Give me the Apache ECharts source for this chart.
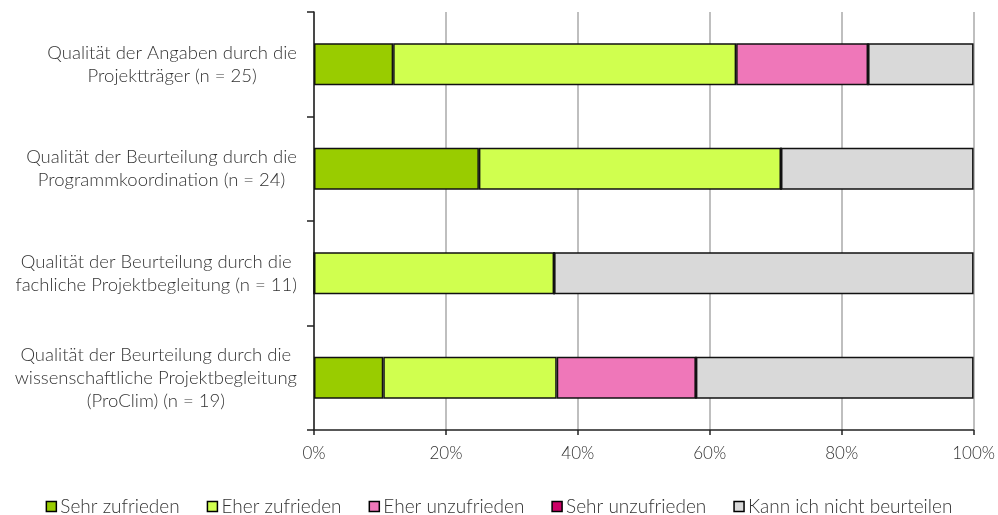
<!DOCTYPE html>
<html>
<head>
<meta charset="utf-8">
<script src="https://cdn.jsdelivr.net/npm/echarts@6/dist/echarts.min.js"></script>
<style>html,body{margin:0;padding:0;background:#fff}#c{width:998px;height:515px}</style>
</head>
<body>
<div id="c"></div>
<script>
const categories = [
  'Qualität der Angaben durch die\nProjektträger (n = 25)',
  'Qualität der Beurteilung durch die\nProgrammkoordination (n = 24)',
  'Qualität der Beurteilung durch die\nfachliche Projektbegleitung (n = 11)',
  'Qualität der Beurteilung durch die\nwissenschaftliche Projektbegleitung\n(ProClim) (n = 19)'
];
const seriesNames = ['Sehr zufrieden', 'Eher zufrieden', 'Eher unzufrieden', 'Sehr unzufrieden', 'Kann ich nicht beurteilen'];
const sehrZufrieden = [12, 25, 0, 10.5];
const eherZufrieden = [52, 45.8, 36.4, 26.3];
const eherUnzufrieden = [20, 0, 0, 21.1];
const sehrUnzufrieden = [0, 0, 0, 0];
const kannNicht = [16, 29.2, 63.6, 42.1];
const xTicks = [0, 20, 40, 60, 80, 100];
const colors = ['#99CC00', '#D0FF4F', '#EF77B9', '#CC0066', '#D9D9D9'];

const values = [sehrZufrieden, eherZufrieden, eherUnzufrieden, sehrUnzufrieden, kannNicht];
const font = 'Lato, "Open Sans", sans-serif';

const chart = echarts.init(document.getElementById('c'));
chart.setOption({
  animation: false,
  textStyle: { fontFamily: font, fontWeight: 300 },
  grid: { left: 314, right: 24, top: 12, bottom: 85, containLabel: false },
  legend: {
    top: 492,
    left: 'center',
    itemWidth: 10,
    itemHeight: 10,
    itemGap: 27,
    icon: 'rect',
    textStyle: { fontSize: 19, color: '#333', fontFamily: font, fontWeight: 300, padding: [0, 0, 0, -1] },
    itemStyle: { borderColor: '#000', borderWidth: 1.5 },
    data: seriesNames
  },
  xAxis: {
    type: 'value',
    min: xTicks[0],
    max: xTicks[xTicks.length - 1],
    interval: 20,
    axisLine: { show: true, lineStyle: { color: '#222', width: 1.5 } },
    axisTick: { show: true, length: 5, lineStyle: { color: '#222', width: 1.5 } },
    axisLabel: { formatter: '{value}%', fontSize: 17, color: '#333', fontWeight: 300, margin: 15 },
    splitLine: { show: true, lineStyle: { color: '#aaa', width: 1.5 } }
  },
  yAxis: {
    type: 'category',
    inverse: true,
    data: categories,
    axisLine: { show: true, lineStyle: { color: '#222', width: 1.5 } },
    axisTick: { show: true, length: 7, lineStyle: { color: '#222', width: 1.5 } },
    axisLabel: {
      margin: 17,
      formatter: v => v.split('\n').map(l => '{c|' + l + '}').join('\n'),
      rich: { c: { align: 'center', fontSize: 18.5, lineHeight: 23, color: '#333', fontFamily: font, fontWeight: 300 } }
    },
    splitLine: { show: false }
  },
  series: seriesNames.map((name, i) => ({
    name,
    type: 'bar',
    stack: 'total',
    barWidth: '40%',
    data: values[i],
    itemStyle: { color: colors[i], borderColor: '#111', borderWidth: 1.5 }
  }))
});
</script>
</body>
</html>
